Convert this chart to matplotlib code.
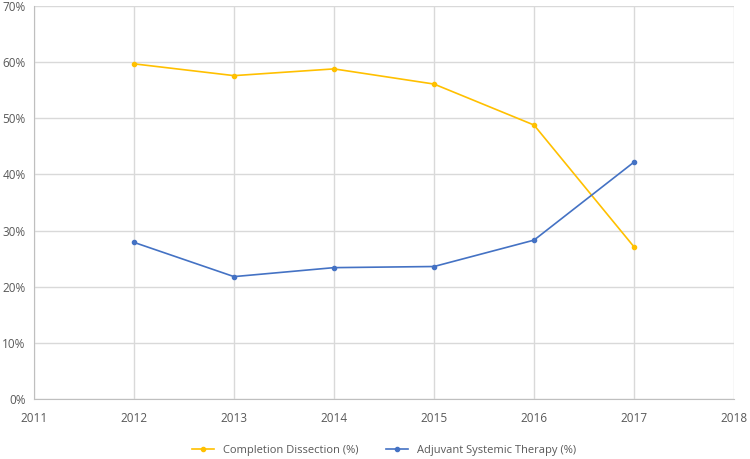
import matplotlib
matplotlib.use('Agg')
import matplotlib.pyplot as plt
from matplotlib.ticker import PercentFormatter

# Data
years = [2012, 2013, 2014, 2015, 2016, 2017]
completion_dissection = [59.7, 57.6, 58.8, 56.1, 48.8, 27.1]
adjuvant_therapy = [27.9, 21.8, 23.4, 23.6, 28.3, 42.2]

plt.rcParams['font.family'] = ['Open Sans', 'DejaVu Sans']
text_color = '#595959'
grid_color = '#d9d9d9'

fig = plt.figure(figsize=(7.5, 4.59), dpi=100)
ax = fig.add_axes([0.0453, 0.1307, 0.9334, 0.8562])

ax.plot(years, completion_dissection, color='#FFC000', lw=1.2, marker='o',
        ms=3, label='Completion Dissection (%)')
ax.plot(years, adjuvant_therapy, color='#4472C4', lw=1.2, marker='o',
        ms=3, label='Adjuvant Systemic Therapy (%)')

ax.set_xlim(2011, 2018)
ax.set_ylim(0, 70)
ax.set_xticks(range(2011, 2019))
ax.set_yticks(range(0, 71, 10))
ax.yaxis.set_major_formatter(PercentFormatter(decimals=0))

ax.grid(True, color=grid_color, lw=1)
ax.set_axisbelow(True)
for side in ['top', 'right']:
    ax.spines[side].set_visible(False)
for side in ['left', 'bottom']:
    ax.spines[side].set_color('#bfbfbf')
ax.tick_params(length=0, labelsize=8.5, colors=text_color)
ax.tick_params(axis='x', pad=9)
ax.tick_params(axis='y', pad=6)

ax.legend(loc='center', bbox_to_anchor=(0.5, -0.13), ncol=2,
          frameon=False, fontsize=8, labelcolor=text_color,
          handlelength=2, columnspacing=2.5)

fig.savefig('out.png', dpi=100)
